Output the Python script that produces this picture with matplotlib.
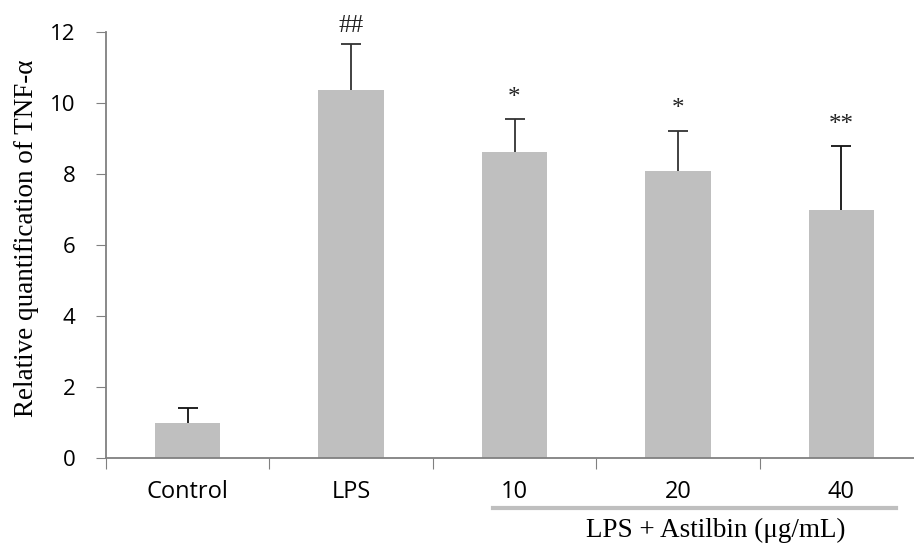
import matplotlib
matplotlib.use("Agg")
import matplotlib.pyplot as plt
from matplotlib import font_manager

# ---- data ----
groups = ["Control", "LPS", "10", "20", "40"]
means = [1.0, 10.37, 8.61, 8.09, 7.0]
sd_up = [0.40, 1.29, 0.93, 1.13, 1.79]
marks = ["", "##", "*", "*", "**"]
err_colors = ["#111111", "#333333", "#333333", "#333333", "#111111"]

names = {f.name for f in font_manager.fontManager.ttflist}
SANS = "Liberation Sans Narrow" if "Liberation Sans Narrow" in names else "Open Sans"
SERIF = "Liberation Serif"

fig = plt.figure(figsize=(9.14, 5.48), dpi=100)
ax = fig.add_axes([106 / 914, (548 - 458) / 548, 817 / 914, 426 / 548])

x = list(range(len(groups)))
ax.bar(x, means, width=0.4, color="#BFBFBF", zorder=2)

# upper error bars only: hide the lower cap of each
for xi, m, s, c in zip(x, means, sd_up, err_colors):
    eb = ax.errorbar([xi], [m], yerr=[[0], [s]], fmt="none", ecolor=c,
                     elinewidth=1.3, capsize=7, capthick=1.3, zorder=3)
    eb[1][0].set_visible(False)

for xi, m, s, t in zip(x, means, sd_up, marks):
    if t:
        off = 0.5 if t == "##" else 0.6
        ax.text(xi, m + s + off, t, ha="center", va="center",
                fontsize=18, family=SERIF, color="#222222")

ax.set_xlim(-0.5, 4.5)
ax.set_ylim(0, 12)
ax.set_yticks(range(0, 13, 2))
ax.set_xticks([i - 0.5 for i in range(6)])
ax.set_xticklabels([])
ax.set_xticks(x, minor=True)
ax.set_xticklabels(groups, minor=True, fontsize=17, family=SANS)
ax.tick_params(axis="x", which="minor", length=0, pad=16)
ax.tick_params(axis="x", which="major", length=8, color="#808080", direction="out")
ax.tick_params(axis="y", length=7, color="#808080", labelsize=16, pad=15)
for lab in ax.get_yticklabels():
    lab.set_family(SANS)

for side in ["top", "right"]:
    ax.spines[side].set_visible(False)
for side in ["left", "bottom"]:
    ax.spines[side].set_color("#808080")
    ax.spines[side].set_linewidth(1.3)

ax.set_ylabel("Relative quantification of TNF-α", fontsize=19.5, family=SERIF)
ax.yaxis.set_label_coords(-67 / 817, 0.516)

# bracket line and label for the Astilbin doses
fig.add_artist(plt.Line2D([493 / 914, 896 / 914], [1 - 508 / 548] * 2,
                          color="#BFBFBF", linewidth=3))
fig.text(716 / 914, 1 - 530 / 548, "LPS + Astilbin (μg/mL)", ha="center", va="center",
         fontsize=19.5, family=SERIF)

fig.savefig("out.png", dpi=100)
